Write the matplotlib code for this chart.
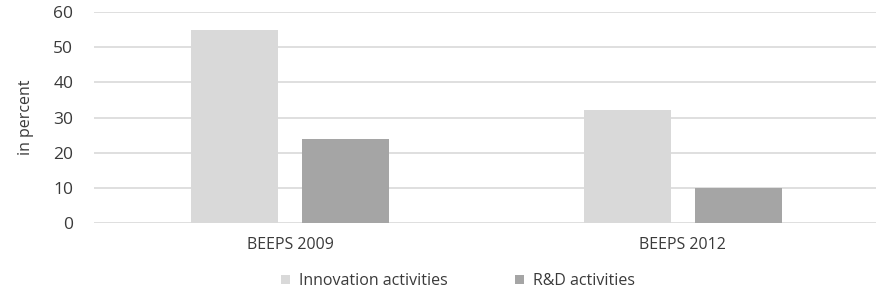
import matplotlib
matplotlib.use("Agg")
import matplotlib.pyplot as plt
import numpy as np

categories = ["BEEPS 2009", "BEEPS 2012"]
series_names = ["Innovation activities", "R&D activities"]
innovation = [55, 32]
rnd = [24, 10]

colors = ["#d9d9d9", "#a5a5a5"]
plt.rcParams['font.family'] = ['Open Sans', 'DejaVu Sans']
tc = "#3a3a3a"

fig = plt.figure(figsize=(8.76, 2.94), dpi=100)
ax = fig.add_axes([94/876, 1 - 223/294, 1 - 94/876, (223 - 12)/294])

x = np.arange(len(categories))
w = 0.222
off = 0.1415
ax.bar(x - off, innovation, w, color=colors[0], label=series_names[0], zorder=3)
ax.bar(x + off, rnd, w, color=colors[1], label=series_names[1], zorder=3)

ax.set_xlim(-0.5, 1.5 - 3/392.5)
ax.set_ylim(0, 60)
ax.set_yticks(range(0, 61, 10))
ax.set_xticks(x)
ax.set_xticklabels(categories)
ax.yaxis.grid(True, color="#d9d9d9", linewidth=1.2, zorder=0)
for s in ax.spines.values():
    s.set_visible(False)
ax.tick_params(axis='both', length=0, labelsize=11.5, colors=tc)
ax.tick_params(axis='y', pad=15, labelsize=12.5)
ax.tick_params(axis='x', pad=10)
ax.set_ylabel("in percent", fontsize=11.5, color=tc, labelpad=14)

leg = fig.legend(loc="center", bbox_to_anchor=(0.523, 1 - 281/294), ncol=2, frameon=False,
                 fontsize=11.5, handlelength=0.55, handleheight=0.55, handletextpad=0.6,
                 columnspacing=4.2, labelcolor=tc)

fig.savefig("out.png", dpi=100)
